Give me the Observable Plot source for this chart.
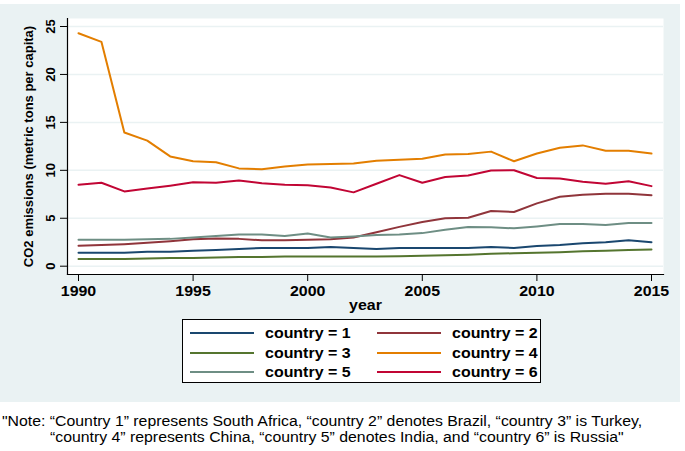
<!DOCTYPE html>
<html><head><meta charset="utf-8">
<script src="https://cdn.jsdelivr.net/npm/d3@7"></script>
<script src="https://cdn.jsdelivr.net/npm/@observablehq/plot@0.6"></script>
<style>
html,body{margin:0;padding:0;background:#fff;}
#wrap{position:relative;width:685px;height:451px;overflow:hidden;font-family:"Liberation Sans",Arial,sans-serif;color:#000;}
#bg{position:absolute;left:0;top:4px;width:680px;height:398px;background:#eaf2f3;}
#chart{position:absolute;left:0;top:4px;}
#legend{position:absolute;left:182px;top:319px;width:357px;height:62px;border:1px solid #000;background:#fff;}
.swatch{position:absolute;width:64px;height:2px;}
.lab{position:absolute;font-weight:bold;font-size:14px;line-height:16px;white-space:nowrap;transform:scaleX(1.14);transform-origin:0 50%;}
.note{position:absolute;font-size:14px;line-height:16px;white-space:nowrap;transform:scaleX(1.13);transform-origin:0 50%;}
</style></head>
<body>
<div id="wrap">
  <div id="bg"></div>
  <div id="chart"></div>
  <div id="legend"></div>
  <div class="note" id="note1" style="left:2px;top:413px;"></div>
  <div class="note" id="note2" style="left:50px;top:429px;"></div>
</div>
<script>
const years = [1990,1991,1992,1993,1994,1995,1996,1997,1998,1999,2000,2001,2002,2003,2004,2005,2006,2007,2008,2009,2010,2011,2012,2013,2014,2015];
const country1 = [1.4,1.4,1.4,1.5,1.5,1.6,1.7,1.8,1.9,1.9,1.9,2.0,1.9,1.8,1.9,1.9,1.9,1.9,2.0,1.9,2.1,2.2,2.4,2.5,2.7,2.5];
const country2 = [2.13,2.2,2.3,2.45,2.6,2.8,2.9,2.85,2.7,2.7,2.75,2.8,3.0,3.55,4.1,4.6,5.0,5.05,5.75,5.65,6.55,7.25,7.45,7.55,7.55,7.4];
const country3 = [0.75,0.75,0.75,0.8,0.85,0.85,0.9,0.95,0.95,1.0,1.0,1.0,1.0,1.0,1.05,1.1,1.15,1.2,1.3,1.35,1.4,1.45,1.55,1.6,1.7,1.75];
const country4 = [24.3,23.4,13.95,13.1,11.45,10.95,10.85,10.2,10.1,10.4,10.6,10.65,10.7,11.0,11.1,11.2,11.65,11.7,11.95,10.95,11.75,12.35,12.6,12.05,12.05,11.75];
const country5 = [2.75,2.75,2.75,2.8,2.85,3.0,3.15,3.3,3.3,3.15,3.4,3.0,3.1,3.25,3.3,3.45,3.8,4.1,4.05,3.95,4.15,4.4,4.4,4.3,4.5,4.5];
const country6 = [8.5,8.7,7.8,8.1,8.4,8.75,8.7,8.95,8.65,8.5,8.45,8.2,7.7,8.6,9.5,8.7,9.3,9.45,9.98,10.0,9.2,9.15,8.8,8.6,8.87,8.35];
const countryLabels = ["1","2","3","4","5","6"];
const countryColors = ["#1a476f","#90353b","#55752f","#e37e00","#6e8e84","#c10534"];
const xTicks = [1990,1995,2000,2005,2010,2015];
const yTicks = [0,5,10,15,20,25];
const yLabel = "CO2 emissions (metric tons per capita)";
const xLabel = "year";
const noteLine1 = "\"Note: \u201cCountry 1\u201d represents South Africa, \u201ccountry 2\u201d denotes Brazil, \u201ccountry 3\u201d is Turkey,";
const noteLine2 = "\u201ccountry 4\u201d represents China, \u201ccountry 5\u201d denotes India, and \u201ccountry 6\u201d is Russia\"";

const series = [country1,country2,country3,country4,country5,country6];
const data = series.flatMap((vals,i) => vals.map((v,j) => ({year: years[j], value: v, country: countryLabels[i]})));

const svg = Plot.plot({
  width: 680, height: 398,
  marginLeft: 67, marginRight: 17, marginTop: 14, marginBottom: 128,
  style: {fontFamily: "'Liberation Sans', Arial, sans-serif", fontSize: "14px", background: "transparent", color: "#000"},
  x: {domain: [1990, 2015], insetLeft: 11, insetRight: 12},
  y: {domain: [0, 25], insetTop: 8, insetBottom: 8.3},
  color: {domain: countryLabels, range: countryColors},
  marks: [
    Plot.frame({fill: "white", stroke: "none"}),
    Plot.gridY(yTicks, {stroke: "#eaf2f3", strokeOpacity: 1, strokeWidth: 1.5}),
    Plot.lineY(data, {x: "year", y: "value", stroke: "country", strokeWidth: 2}),
    Plot.frame({anchor: "left", stroke: "#000", strokeWidth: 1.2}),
    Plot.frame({anchor: "bottom", stroke: "#000", strokeWidth: 1.2}),
    Plot.axisY(yTicks, {tickSize: 7, tickPadding: 6, tickRotate: -90, label: yLabel, labelArrow: "none", labelAnchor: "center", labelOffset: 44, stroke: "#000"}),
    Plot.axisX(xTicks, {tickSize: 7, tickPadding: 5, tickFormat: d => String(d), label: xLabel, labelArrow: "none", labelAnchor: "center", labelOffset: 35, stroke: "#000"})
  ]
});

function styleGroup(label, attrs) {
  svg.querySelectorAll(`g[aria-label="${label}"]`).forEach(g => {
    for (const [k, v] of Object.entries(attrs)) g.setAttribute(k, v);
    g.querySelectorAll("text").forEach(t => { for (const [k, v] of Object.entries(attrs)) t.setAttribute(k, v); });
  });
}
styleGroup("x-axis tick label", {"font-weight": "bold", "font-size": 14, "fill": "#000"});
styleGroup("x-axis label", {"font-weight": "bold", "font-size": 14, "fill": "#000"});
styleGroup("y-axis tick label", {"font-weight": "bold", "font-size": 13, "fill": "#000"});
styleGroup("y-axis label", {"font-weight": "bold", "font-size": 13, "fill": "#000"});

// mimic the reference's horizontally widened lettering
function stretch(label, k) {
  svg.querySelectorAll(`g[aria-label="${label}"] text`).forEach(t => {
    const tr = t.getAttribute("transform");
    if (tr) {
      t.setAttribute("transform", `${tr} scale(${k},1)`);
    } else {
      const x = parseFloat(t.getAttribute("x") || "0");
      t.setAttribute("x", x / k);
      t.setAttribute("transform", `scale(${k},1)`);
    }
  });
}
stretch("x-axis tick label", 1.14);
stretch("x-axis label", 1.14);

document.getElementById("chart").appendChild(svg);

// legend
const legend = document.getElementById("legend");
countryLabels.forEach((c, i) => {
  const col = i % 2, row = Math.floor(i / 2);
  const cy = 13 + row * 19.5;
  const sw = document.createElement("div");
  sw.className = "swatch";
  sw.style.left = (7 + col * 187) + "px";
  sw.style.top = (cy - 1) + "px";
  sw.style.background = countryColors[i];
  legend.appendChild(sw);
  const lb = document.createElement("div");
  lb.className = "lab";
  lb.style.left = (82 + col * 187) + "px";
  lb.style.top = (cy - 8) + "px";
  lb.textContent = "country = " + c;
  legend.appendChild(lb);
});
document.getElementById("note1").textContent = noteLine1;
document.getElementById("note2").textContent = noteLine2;
</script>
</body></html>
